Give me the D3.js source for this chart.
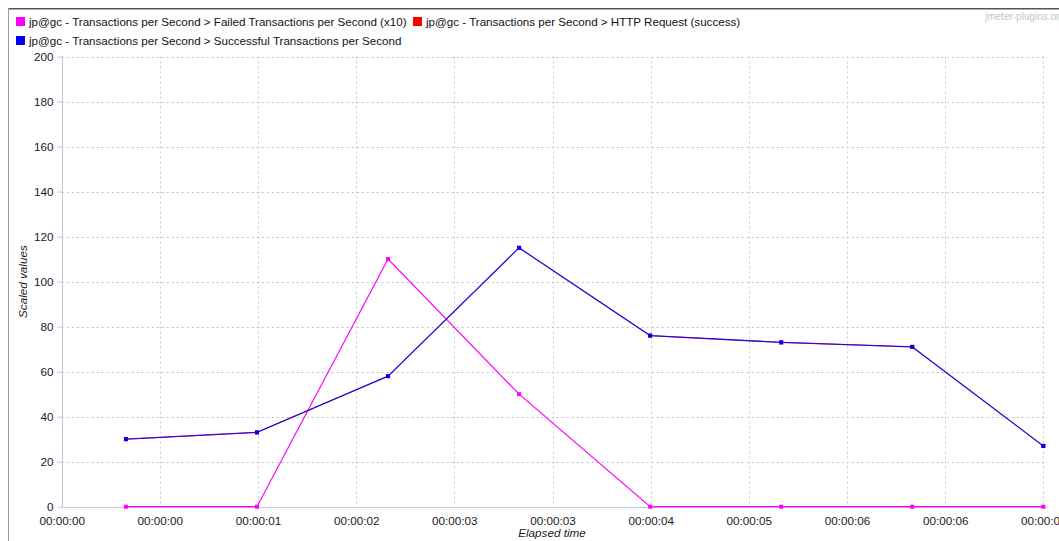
<!DOCTYPE html>
<html><head><meta charset="utf-8">
<script src="https://cdn.jsdelivr.net/npm/d3@7"></script>
<style>
html,body{margin:0;padding:0;background:#fff;}
svg{display:block;font-family:"Liberation Sans",Arial,sans-serif;}
</style></head>
<body>
<svg id="chart" width="1059" height="541"></svg>
<script>
// elapsed time of each sample, in seconds
const times = [0.49, 1.49, 2.49, 3.49, 4.49, 5.49, 6.49, 7.49];
const failedX10 = [0, 0, 110, 50, 0, 0, 0, 0];
const httpSuccess = [30, 33, 58, 115, 76, 73, 71, 27];
const successful = [30, 33, 58, 115, 76, 73, 71, 27];
const xTickLabels = ["00:00:00","00:00:00","00:00:01","00:00:02","00:00:03","00:00:03","00:00:04","00:00:05","00:00:06","00:00:06","00:00:07"];
const yTicks = [0, 20, 40, 60, 80, 100, 120, 140, 160, 180, 200];
const seriesNames = [
  "jp@gc - Transactions per Second > Failed Transactions per Second (x10)",
  "jp@gc - Transactions per Second > HTTP Request (success)",
  "jp@gc - Transactions per Second > Successful Transactions per Second"
];
const seriesColors = ["#ff00ff", "#ff0000", "#0000ff"];

const svg = d3.select("#chart");
const L = 61.7, R = 1043.3, T = 56.5, B = 506.7;
const x = d3.scaleLinear().domain([0, 7.49]).range([L, R]);
const y = d3.scaleLinear().domain([0, 200]).range([B, T]);
const xTickVals = d3.range(xTickLabels.length).map(i => 7.49 * i / (xTickLabels.length - 1));

// frame
svg.append("line").attr("x1", 8).attr("x2", 1059).attr("y1", 8.5).attr("y2", 8.5).attr("stroke", "#555").attr("stroke-width", 1);
svg.append("line").attr("x1", 8).attr("x2", 1059).attr("y1", 9.5).attr("y2", 9.5).attr("stroke", "#aaa").attr("stroke-width", 1);
svg.append("line").attr("x1", 8.5).attr("x2", 8.5).attr("y1", 8).attr("y2", 541).attr("stroke", "#999").attr("stroke-width", 1);

// watermark
svg.append("text").attr("x", 985).attr("y", 20).attr("font-size", 10).attr("fill", "#c4c4c4").text("jmeter-plugins.org");

// grid
const grid = svg.append("g");
grid.selectAll(".hg").data(yTicks.filter(d => d > 0)).join("line")
  .attr("x1", L).attr("x2", 1047).attr("y1", d => Math.round(y(d)) + 0.5).attr("y2", d => Math.round(y(d)) + 0.5)
  .attr("stroke", "#b8bfcf").attr("stroke-dasharray", "2,3");
grid.selectAll(".vg").data(xTickVals.slice(1)).join("line")
  .attr("x1", d => Math.round(x(d)) + 0.5).attr("x2", d => Math.round(x(d)) + 0.5).attr("y1", T).attr("y2", B)
  .attr("stroke", "#c4cad6").attr("stroke-dasharray", "2,3");

// axes
const yAxis = d3.axisLeft(y).tickValues(yTicks).tickSize(5).tickPadding(4);
const gy = svg.append("g").attr("transform", `translate(${Math.round(L) + 0.5},0)`).call(yAxis);
gy.select(".domain").attr("stroke", "#c4c8d8").attr("d", `M0,${T}V${B}`);
gy.selectAll(".tick line").attr("stroke", "#c4c8d8");
gy.selectAll(".tick text").attr("fill", "#1a1a1a").attr("font-size", 11.7).attr("font-family", "Liberation Sans, Arial, sans-serif");

const xAxis = d3.axisBottom(x).tickValues(xTickVals).tickFormat((d, i) => xTickLabels[i]).tickSize(0).tickPadding(9);
const gx = svg.append("g").attr("transform", `translate(0,${Math.round(B) + 0.5})`).call(xAxis);
gx.select(".domain").attr("stroke", "#c4c8d8").attr("d", `M${L},0H1048`);
gx.selectAll(".tick text").attr("fill", "#1a1a1a").attr("font-size", 11.7).attr("font-family", "Liberation Sans, Arial, sans-serif");

// axis titles
svg.append("text").attr("x", 552).attr("y", 537).attr("text-anchor", "middle").attr("font-size", 11.7).attr("font-style", "italic").attr("fill", "#1a1a1a").text("Elapsed time");
svg.append("text").attr("transform", `translate(27,${(T + B) / 2}) rotate(-90)`).attr("text-anchor", "middle").attr("font-size", 11.7).attr("font-style", "italic").attr("fill", "#1a1a1a").text("Scaled values");

// series
const line = d3.line().x((d, i) => x(times[i])).y(d => y(d));
const drawSeries = (vals, color, width, opacity, markOpacity) => {
  svg.append("path").datum(vals).attr("d", line).attr("fill", "none").attr("stroke", color).attr("stroke-width", width).attr("stroke-opacity", opacity);
  svg.append("g").selectAll("rect").data(vals).join("rect")
    .attr("x", (d, i) => x(times[i]) - 2).attr("y", d => y(d) - 2).attr("width", 4).attr("height", 4).attr("fill", color).attr("fill-opacity", markOpacity);
};
drawSeries(failedX10, seriesColors[0], 1.2, 1, 1);
drawSeries(httpSuccess, seriesColors[1], 1.0, 1, 1);
drawSeries(successful, seriesColors[2], 1.3, 0.8, 1);

// legend
const legendPos = [[16, 22], [413, 22], [16, 41]];
const lg = svg.append("g");
seriesNames.forEach((name, i) => {
  const [lx, ly] = legendPos[i];
  lg.append("rect").attr("x", lx).attr("y", ly - 5).attr("width", 9).attr("height", 9).attr("fill", seriesColors[i]);
  lg.append("text").attr("x", lx + 13).attr("y", ly + 4).attr("font-size", 11.6).attr("fill", "#111").text(name);
});
</script>
</body></html>
